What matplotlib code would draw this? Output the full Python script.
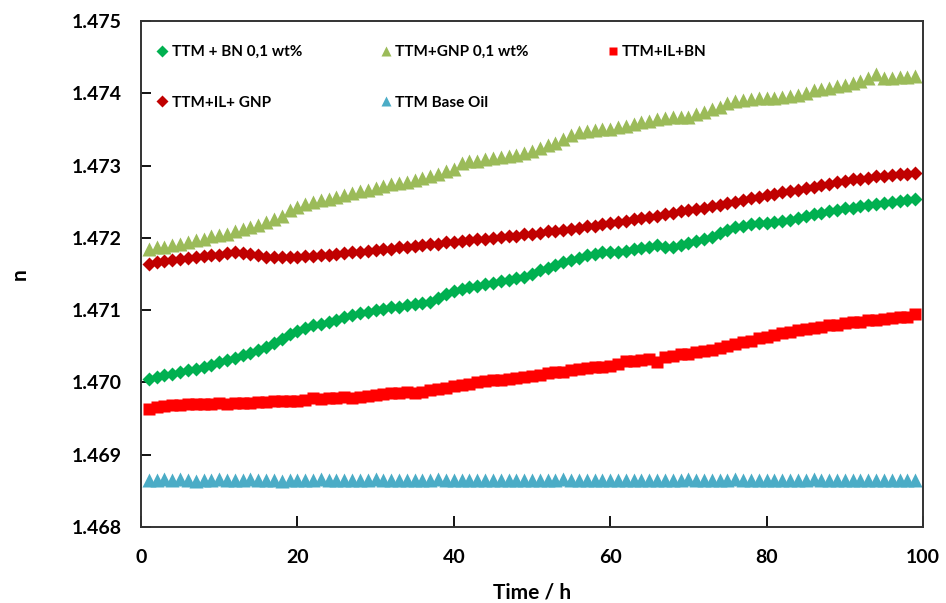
import matplotlib
matplotlib.use("Agg")
import matplotlib.pyplot as plt

# time axis (h)
hours = list(range(1, 100))

# refractive index of each sample
bn_01 = [
    1.47005, 1.47008, 1.47010, 1.47012, 1.47015, 1.47017, 1.47019, 1.47021, 1.47024, 1.47028,
    1.47031, 1.47034, 1.47038, 1.47041, 1.47045, 1.47049, 1.47054, 1.47060, 1.47067, 1.47071,
    1.47075, 1.47079, 1.47081, 1.47083, 1.47086, 1.47090, 1.47093, 1.47096, 1.47098, 1.47100,
    1.47102, 1.47104, 1.47105, 1.47107, 1.47108, 1.47110, 1.47112, 1.47117, 1.47123, 1.47127,
    1.47130, 1.47132, 1.47134, 1.47136, 1.47138, 1.47140, 1.47142, 1.47144, 1.47146, 1.47150,
    1.47155, 1.47159, 1.47163, 1.47166, 1.47169, 1.47172, 1.47176, 1.47178, 1.47180, 1.47181,
    1.47180, 1.47182, 1.47184, 1.47186, 1.47188, 1.47190, 1.47188, 1.47187, 1.47190, 1.47193,
    1.47196, 1.47198, 1.47201, 1.47207, 1.47211, 1.47215, 1.47217, 1.47219, 1.47220, 1.47221,
    1.47222, 1.47223, 1.47225, 1.47227, 1.47230, 1.47233, 1.47235, 1.47237, 1.47239, 1.47241,
    1.47242, 1.47244, 1.47246, 1.47247, 1.47249, 1.47250, 1.47251, 1.47252, 1.47254,
]

gnp_01 = [
    1.47185, 1.47187, 1.47188, 1.47190, 1.47192, 1.47194, 1.47197, 1.47199, 1.47202, 1.47204,
    1.47206, 1.47209, 1.47212, 1.47215, 1.47218, 1.47222, 1.47226, 1.47231, 1.47238, 1.47243,
    1.47247, 1.47250, 1.47252, 1.47254, 1.47256, 1.47259, 1.47262, 1.47265, 1.47267, 1.47269,
    1.47272, 1.47274, 1.47276, 1.47278, 1.47280, 1.47283, 1.47286, 1.47289, 1.47292, 1.47296,
    1.47304, 1.47306, 1.47307, 1.47309, 1.47310, 1.47312, 1.47313, 1.47315, 1.47317, 1.47320,
    1.47324, 1.47328, 1.47332, 1.47337, 1.47343, 1.47346, 1.47348, 1.47350, 1.47351, 1.47351,
    1.47353, 1.47355, 1.47357, 1.47360, 1.47362, 1.47364, 1.47366, 1.47367, 1.47367, 1.47368,
    1.47371, 1.47374, 1.47378, 1.47381, 1.47386, 1.47390, 1.47391, 1.47392, 1.47393, 1.47393,
    1.47394, 1.47395, 1.47396, 1.47398, 1.47401, 1.47404, 1.47406, 1.47408, 1.47410, 1.47412,
    1.47414, 1.47417, 1.47421, 1.47427, 1.47421, 1.47421, 1.47422, 1.47423, 1.47424,
]

il_bn = [
    1.46963, 1.46966, 1.46968, 1.46969, 1.46969, 1.46970, 1.46970, 1.46970, 1.46970, 1.46971,
    1.46970, 1.46971, 1.46972, 1.46972, 1.46973, 1.46973, 1.46974, 1.46975, 1.46974, 1.46975,
    1.46976, 1.46978, 1.46977, 1.46978, 1.46979, 1.46980, 1.46979, 1.46980, 1.46981, 1.46983,
    1.46984, 1.46986, 1.46986, 1.46987, 1.46986, 1.46987, 1.46989, 1.46991, 1.46993, 1.46995,
    1.46997, 1.46998, 1.47000, 1.47002, 1.47003, 1.47004, 1.47005, 1.47006, 1.47007, 1.47009,
    1.47011, 1.47013, 1.47014, 1.47015, 1.47017, 1.47019, 1.47020, 1.47021, 1.47022, 1.47023,
    1.47026, 1.47030, 1.47030, 1.47031, 1.47032, 1.47028, 1.47035, 1.47037, 1.47039, 1.47040,
    1.47042, 1.47043, 1.47045, 1.47048, 1.47050, 1.47053, 1.47056, 1.47058, 1.47061, 1.47063,
    1.47065, 1.47068, 1.47070, 1.47072, 1.47074, 1.47076, 1.47077, 1.47079, 1.47080, 1.47082,
    1.47083, 1.47084, 1.47086, 1.47087, 1.47088, 1.47089, 1.47090, 1.47091, 1.47095,
]

il_gnp = [
    1.47164, 1.47166, 1.47168, 1.47169, 1.47171, 1.47172, 1.47173, 1.47175, 1.47176, 1.47177,
    1.47179, 1.47180, 1.47179, 1.47178, 1.47176, 1.47174, 1.47173, 1.47173, 1.47174, 1.47174,
    1.47175, 1.47175, 1.47176, 1.47177, 1.47178, 1.47179, 1.47180, 1.47181, 1.47182, 1.47183,
    1.47184, 1.47185, 1.47187, 1.47188, 1.47189, 1.47190, 1.47191, 1.47192, 1.47194, 1.47195,
    1.47196, 1.47197, 1.47198, 1.47199, 1.47200, 1.47201, 1.47202, 1.47203, 1.47205, 1.47206,
    1.47207, 1.47209, 1.47210, 1.47211, 1.47213, 1.47214, 1.47216, 1.47217, 1.47219, 1.47221,
    1.47222, 1.47224, 1.47226, 1.47227, 1.47229, 1.47231, 1.47233, 1.47235, 1.47237, 1.47239,
    1.47240, 1.47242, 1.47244, 1.47246, 1.47248, 1.47250, 1.47253, 1.47255, 1.47257, 1.47259,
    1.47261, 1.47263, 1.47265, 1.47267, 1.47269, 1.47271, 1.47273, 1.47275, 1.47277, 1.47279,
    1.47281, 1.47282, 1.47283, 1.47285, 1.47286, 1.47287, 1.47288, 1.47289, 1.47290,
]

base_oil = [
    1.46865, 1.46865, 1.46866, 1.46865, 1.46866, 1.46865, 1.46863, 1.46865, 1.46865, 1.46866,
    1.46865, 1.46865, 1.46865, 1.46866, 1.46865, 1.46865, 1.46865, 1.46863, 1.46865, 1.46865,
    1.46865, 1.46865, 1.46866, 1.46865, 1.46865, 1.46865, 1.46865, 1.46865, 1.46865, 1.46866,
    1.46865, 1.46865, 1.46865, 1.46865, 1.46865, 1.46865, 1.46865, 1.46866, 1.46865, 1.46865,
    1.46865, 1.46865, 1.46865, 1.46865, 1.46865, 1.46865, 1.46865, 1.46865, 1.46865, 1.46865,
    1.46865, 1.46865, 1.46865, 1.46866, 1.46865, 1.46865, 1.46865, 1.46865, 1.46865, 1.46865,
    1.46865, 1.46865, 1.46865, 1.46865, 1.46865, 1.46865, 1.46865, 1.46865, 1.46865, 1.46866,
    1.46865, 1.46865, 1.46865, 1.46865, 1.46865, 1.46866, 1.46865, 1.46865, 1.46865, 1.46865,
    1.46865, 1.46865, 1.46865, 1.46865, 1.46865, 1.46866, 1.46865, 1.46865, 1.46865, 1.46865,
    1.46865, 1.46865, 1.46865, 1.46865, 1.46865, 1.46865, 1.46865, 1.46865, 1.46865,
]

labels = ["TTM + BN 0,1 wt%", "TTM+GNP 0,1 wt%", "TTM+IL+BN", "TTM+IL+ GNP", "TTM Base Oil"]
x_ticks = [0, 20, 40, 60, 80, 100]
y_ticks = [1.468, 1.469, 1.470, 1.471, 1.472, 1.473, 1.474, 1.475]

plt.rcParams['font.family'] = ['Lato', 'DejaVu Sans']
plt.rcParams['font.weight'] = 'bold'

fig = plt.figure(figsize=(9.46, 6.03), dpi=100)
ax = fig.add_axes([0.149, 0.126, 0.8267, 0.839])

# base oil first so the others sit on top
h5, = ax.plot(hours, base_oil, linestyle='none', marker='^', ms=10, color='#4BACC6', mec='none')
h3, = ax.plot(hours, il_bn, linestyle='none', marker='s', ms=8.5, color='#FF0000', mec='none')
h1, = ax.plot(hours, bn_01, linestyle='none', marker='D', ms=7.5, color='#00B050', mec='none')
h4, = ax.plot(hours, il_gnp, linestyle='none', marker='D', ms=7.5, color='#C00000', mec='none')
h2, = ax.plot(hours, gnp_01, linestyle='none', marker='^', ms=10, color='#9BBB59', mec='none')

ax.set_xlim(0, 100)
ax.set_ylim(1.468, 1.475)
ax.set_xticks(x_ticks)
ax.set_yticks(y_ticks)
ax.set_yticklabels(["%.3f" % v for v in y_ticks])
ax.tick_params(axis='x', direction='in', length=8, width=1.3, pad=16, labelsize=14)
ax.tick_params(axis='y', direction='in', length=7, width=1.3, pad=14, labelsize=14)
for s in ax.spines.values():
    s.set_linewidth(1.4)
    s.set_color('#333333')

ax.set_xlabel("Time / h", fontsize=15, fontweight='bold', labelpad=12)
ax.set_ylabel("n", fontsize=15, fontweight='bold', labelpad=30)

# legend: 3 columns, filled row-wise like the original
leg = ax.legend([h1, h4, h2, h5, h3],
                [labels[0], labels[3], labels[1], labels[4], labels[2]],
                ncol=3, loc='upper left', bbox_to_anchor=(0.0, 0.98),
                frameon=False, fontsize=11, handletextpad=0.1,
                handlelength=1.0, columnspacing=5.0, labelspacing=2.4,
                markerscale=0.75)

fig.savefig("out.png", dpi=100)
